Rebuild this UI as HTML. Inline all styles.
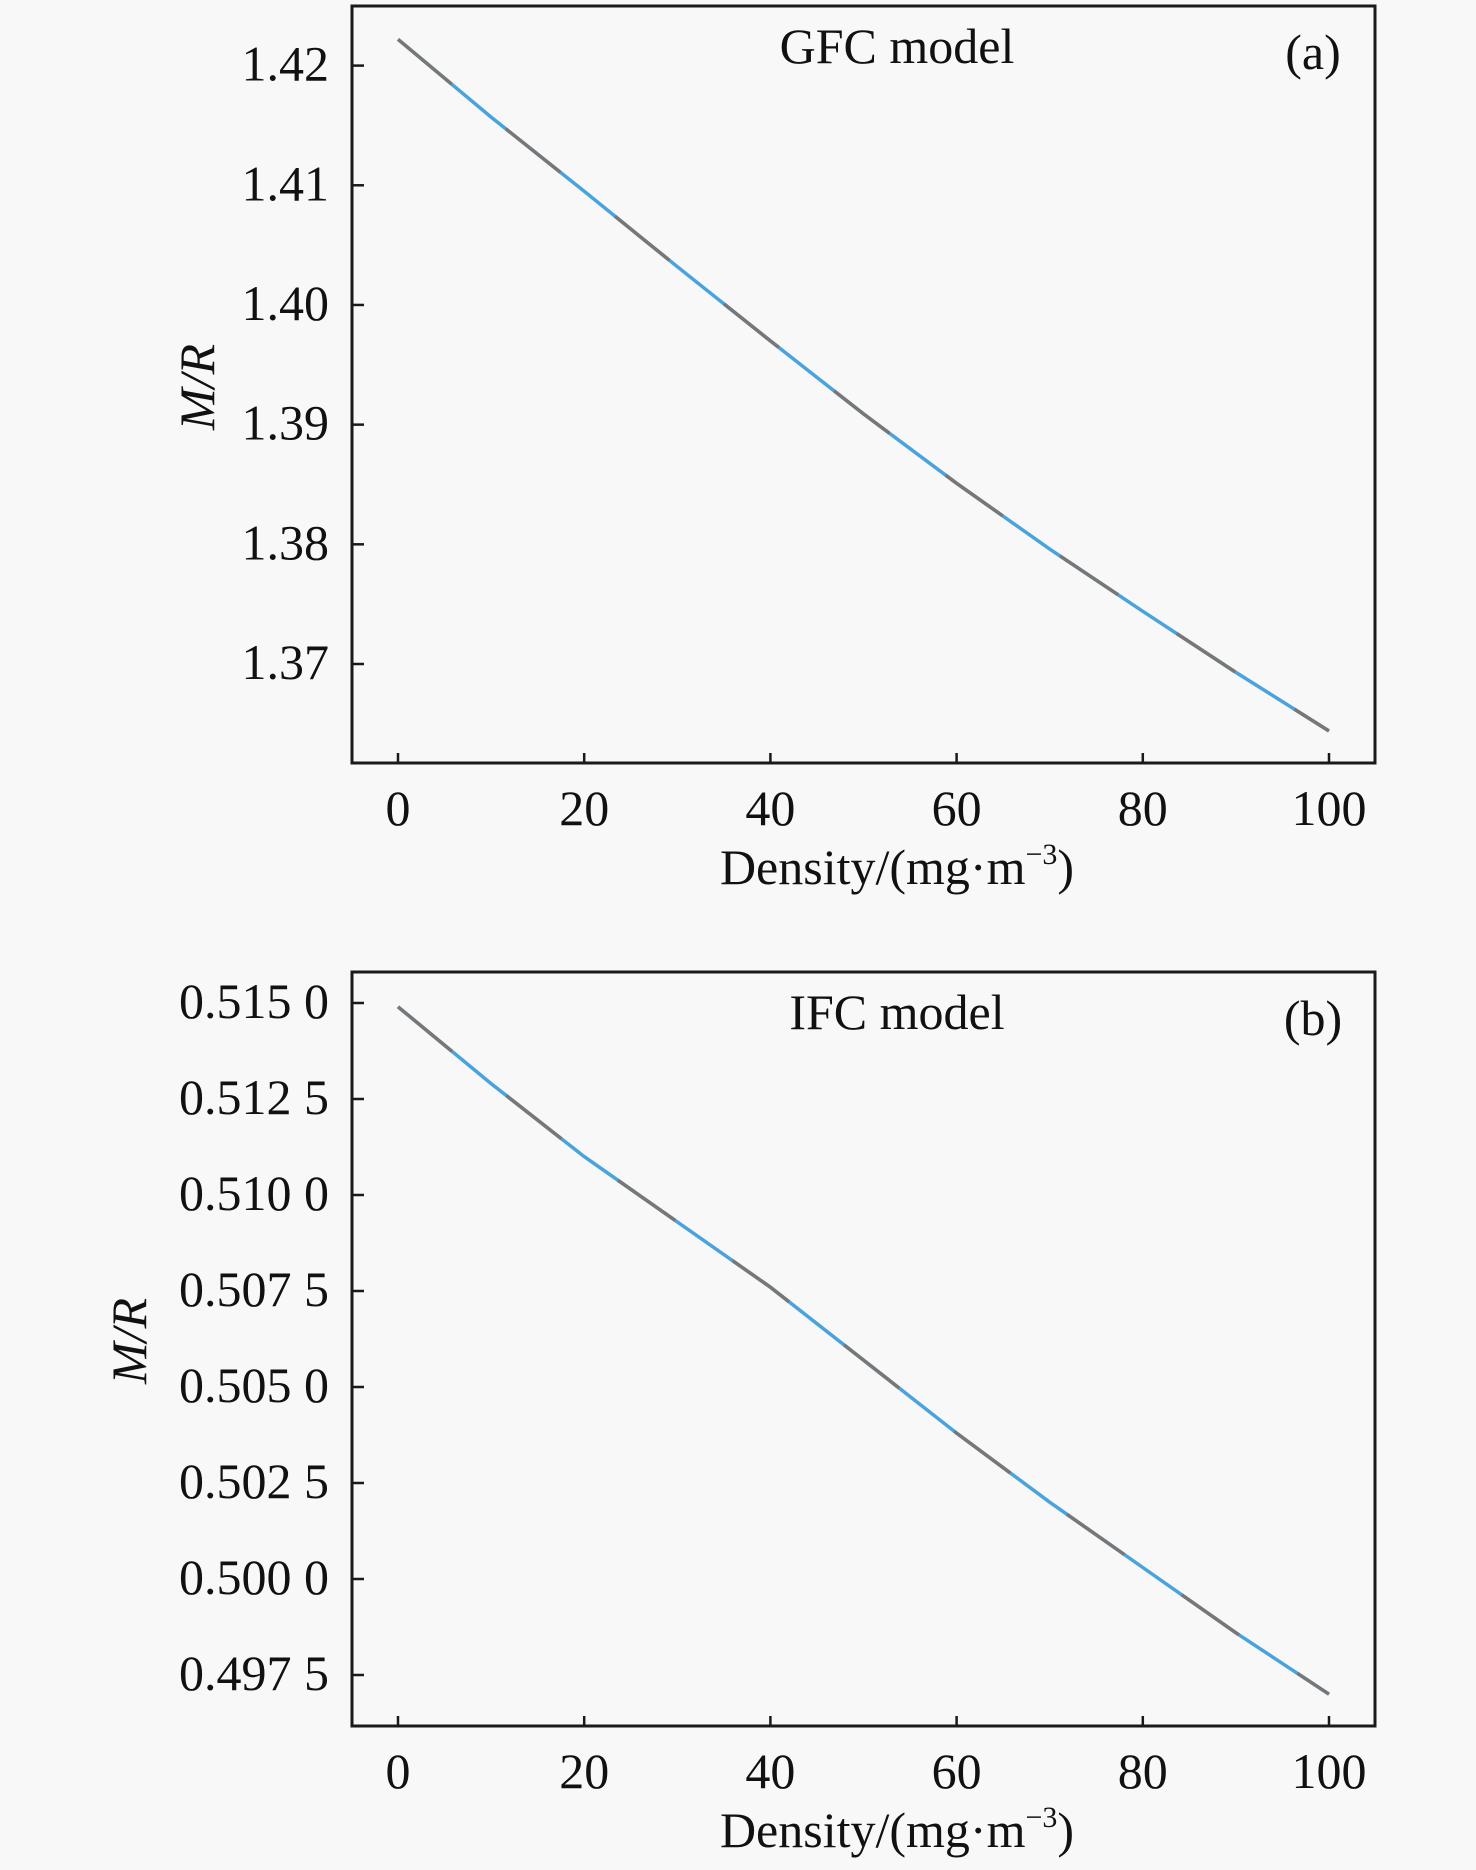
<!DOCTYPE html>
<html><head><meta charset="utf-8"><style>
html,body{margin:0;padding:0;background:#f8f8f8;}
svg{display:block;}
text{font-family:"Liberation Serif",serif;fill:#111;}
</style></head><body>
<svg id="chart" width="1476" height="1870" xmlns="http://www.w3.org/2000/svg">
<rect x="0" y="0" width="1476" height="1870" fill="#f8f8f8"/>
</svg>
<script>
const xValues = [0,10,20,30,40,50,60,70,80,90,100];
const gfcValues = [1.4222,1.4157,1.4095,1.4032,1.3970,1.3909,1.3851,1.3796,1.3744,1.3693,1.3644];
const ifcValues = [0.5149,0.5129,0.5110,0.5093,0.5076,0.5057,0.5038,0.5020,0.5003,0.4986,0.4970];
const xTicks = [0,20,40,60,80,100];
const gfcTicks = [1.42,1.41,1.40,1.39,1.38,1.37];
const gfcTickLabels = ["1.42","1.41","1.40","1.39","1.38","1.37"];
const ifcTicks = [0.515,0.5125,0.51,0.5075,0.505,0.5025,0.5,0.4975];
const ifcTickLabels = ["0.515 0","0.512 5","0.510 0","0.507 5","0.505 0","0.502 5","0.500 0","0.497 5"];

const NS="http://www.w3.org/2000/svg";
const svg=document.getElementById('chart');
function mk(tag,attrs,parent){const e=document.createElementNS(NS,tag);for(const k in attrs)e.setAttribute(k,attrs[k]);(parent||svg).appendChild(e);return e;}

function panel(cfg){
  const g=mk('g',{});
  
  
  const L=352,R=1375,T=cfg.top,B=cfg.bottom;
  const xs=d=>398+(1329-398)*(d-0)/100;
  const ys=v=>cfg.y0px+(v-cfg.y0)*(cfg.y1px-cfg.y0px)/(cfg.y1-cfg.y0);
  const frame=mk('rect',{x:L,y:T,width:R-L,height:B-T,fill:'none',stroke:'#1a1a1a','stroke-width':3},g);
  
  
  xTicks.forEach(t=>{
    const tk=mk('line',{x1:xs(t),x2:xs(t),y1:B,y2:B-10,stroke:'#1a1a1a','stroke-width':2.5},g);
    
    
    const tl=mk('text',{x:xs(t),y:B+62,'font-size':50,'text-anchor':'middle'},g);
    tl.textContent=String(t);
    
    
  });
  cfg.ticks.forEach((t,i)=>{
    const y=ys(t);
    const tk=mk('line',{x1:L,x2:L+12,y1:y,y2:y,stroke:'#1a1a1a','stroke-width':2.5},g);
    
    
    const tl=mk('text',{x:329,y:y+15,'font-size':50,'text-anchor':'end'},g);
    tl.textContent=cfg.labels[i];
    
    
  });
  const pts=xValues.map((d,i)=>xs(d).toFixed(1)+','+ys(cfg.values[i]).toFixed(1)).join(' ');
  const l1=mk('polyline',{points:pts,fill:'none',stroke:'#4aa3dc','stroke-width':3.5},g);
  
  
  const l2=mk('polyline',{points:pts,fill:'none',stroke:'#777','stroke-width':3.5,'stroke-dasharray':'70 70'},g);
  
  
  const tt=mk('text',{x:897,y:T+57,'font-size':50,'text-anchor':'middle'},g);
  tt.textContent=cfg.title;
  
  
  const lb=mk('text',{x:1313,y:T+63,'font-size':50,'text-anchor':'middle'},g);
  lb.textContent=cfg.letter;
  
  
  const xt=mk('text',{x:897,y:B+121,'font-size':50,'text-anchor':'middle'},g);
  xt.innerHTML='Density/(mg·m<tspan dy="-20" font-size="30">−3</tspan><tspan dy="20">)</tspan>';
  
  
  const yt=mk('text',{x:0,y:0,'font-size':50,'text-anchor':'middle','font-style':'italic',transform:`translate(${cfg.ytx},${cfg.yty}) rotate(-90)`},g);
  yt.textContent='M/R';
  
  
}
panel({name:'panel-a-gfc',top:6,bottom:763,y0:1.42,y0px:65.6,y1:1.37,y1px:664,ticks:gfcTicks,labels:gfcTickLabels,values:gfcValues,title:'GFC model',letter:'(a)',ytx:214,yty:387});
panel({name:'panel-b-ifc',top:972,bottom:1726,y0:0.515,y0px:1003,y1:0.4975,y1px:1675,ticks:ifcTicks,labels:ifcTickLabels,values:ifcValues,title:'IFC model',letter:'(b)',ytx:146,yty:1341});
</script>
</body></html>
